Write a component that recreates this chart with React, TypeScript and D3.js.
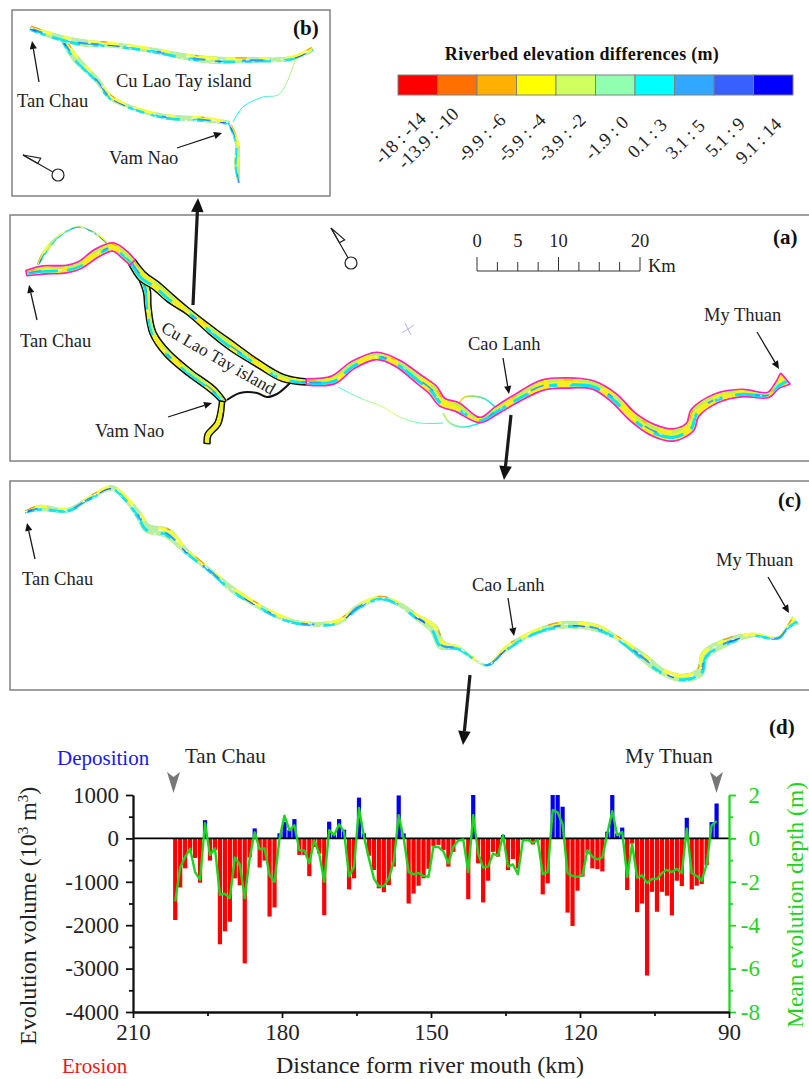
import React, { useEffect, useRef } from "react";
import * as d3 from "d3";

const SERIF = "'Liberation Serif', 'Times New Roman', serif";
const GREEN = "#1fd41f";

// chart (d): one value per km of river, from km 201.5 down to km 92.5
const volume = [
  -1880, -1130, -690, -300, -450, -1020, 420, -510, -270, -2440,
  -2140, -1920, -920, -1080, -2880, -440, 230, -670, -510, -1800,
  -1590, 115, 380, 190, 445, -380, -380, -870, -200, -350,
  -1770, 385, 80, 445, 200, -1175, -920, 940, 115, -400,
  -730, -1150, -1240, -1075, -650, 990, 115, -1500, -1270, -1090,
  -920, -700, -180, -150, -270, -650, -310, -40, -25, -1400,
  1000, -575, -1475, -975, -310, -420, 80, -730, -475, -690,
  -40, -50, -140, -40, -1290, -1035, 1000, 1000, 730, -1710,
  -2020, -1205, -880, -345, -690, -705, -760, 155, 1000, 115,
  250, -1190, -120, -1700, -1500, -3160, -1230, -1690, -1230, -1320,
  -1775, -975, -1100, 475, -1175, -1090, -1050, -615, 375, 805,
];
const depth = [
  -2.9, -1.35, -0.85, -0.48, -1.55, -1.9, 0.7, -0.77, -0.46, -2.6,
  -2.55, -2.75, -0.88, -1.2, -2.75, -0.9, 0.28, -0.5, -0.46, -1.7,
  -2.0, 0, 1.05, 0.38, 0.6, -0.55, -0.55, -1.15, -0.1, -0.7,
  -2.0, 0.38, 0.15, 0.65, 0.3, -1.75, -1.3, 1.4, 0.08, -0.92,
  -1.85, -2.2, -2.2, -1.85, -1.07, 1.07, 0, -1.55, -1.65, -1.6,
  -1.73, -1.77, -0.38, -0.4, -0.6, -1.15, -0.38, -0.1, -0.05, -1.55,
  1.07, -0.7, -1.35, -1.3, -0.7, -0.8, 0.15, -1.3, -1.2, -1.65,
  -0.1, -0.08, -0.2, -0.08, -1.65, -1.55, 1.3, 1.2, 0.65, -1.6,
  -1.73, -1.77, -1.7, -0.55, -0.85, -0.97, -0.88, 0.23, 1.25, 0.15,
  0.3, -1.77, -0.26, -1.8, -1.7, -2.05, -1.87, -1.87, -1.6, -1.45,
  -1.55, -1.4, -1.6, 0.45, -1.6, -1.73, -1.95, -1.2, 0.6, 0.8,
];
const volumeTicks = [1000, 0, -1000, -2000, -3000, -4000];
const depthTicks = [2, 0, -2, -4, -6, -8];
const distanceTicks = [210, 180, 150, 120, 90];

// legend
const legendLabels = [
  "-18 : -14", "-13.9 : -10", "-9.9 : -6", "-5.9 : -4", "-3.9 : -2",
  "-1.9 : 0", "0.1 : 3", "3.1 : 5", "5.1 : 9", "9.1 : 14",
];
const legendColors = [
  "#ff0000", "#ff7000", "#ffb000", "#ffff00", "#d0ff60",
  "#90ffb0", "#00ffff", "#30a8ff", "#3860ff", "#0000ff",
];
const legendLabelX = [382, 405, 465, 505, 545, 592, 635, 673, 713, 743];
const legendLabelY = [165, 170, 163, 163, 163, 161, 159, 160, 158, 165];

// river reaches as [x, y, width]
type P = [number, number, number];
const aUpper: P[] = [[27, 273, 4], [43, 270, 7], [67, 269, 6], [80, 265, 6], [97, 253, 7], [113, 247, 7], [125, 255, 7], [132, 262, 6]];
const aMiddle: P[] = [[132, 262, 7], [143, 277, 9], [155, 285, 8], [170, 298, 8], [190, 313, 5], [213, 332, 7], [233, 347, 8], [257, 363, 6], [283, 378, 6], [307, 382, 5]];
const aLower: P[] = [[307, 382, 5], [333, 380, 7], [353, 365, 6], [377, 356, 6], [397, 363, 6], [420, 380, 8], [433, 390, 9], [442, 402, 8], [457, 407, 8], [480, 420, 4], [497, 410, 6], [517, 398, 7], [543, 385, 9], [567, 383, 9], [593, 385, 7], [613, 397, 8], [633, 417, 8], [653, 430, 10], [673, 435, 11], [690, 427, 9], [695, 413, 9], [717, 398, 8], [743, 393, 6], [768, 395, 4], [777, 386, 5], [785, 379, 13]];
const aHau: P[] = [[143, 279, 7], [147, 292, 6], [148, 307, 5], [153, 333, 5], [167, 353, 6], [190, 373, 6], [213, 390, 6], [224, 402, 4]];
const aHauLeg: P[] = [[222, 402, 4], [218, 423, 5], [208, 435, 5], [207, 443, 5]];
const aVamNao: P[] = [[227, 400, 2], [240, 393, 2], [257, 393, 2], [267, 397, 2], [277, 394, 2], [290, 383, 2]];
const aLoop: P[] = [[38, 265, 3], [45, 252, 5], [58, 237, 3], [78, 227, 2], [93, 232, 2], [107, 243, 3]];
const aThin1: P[] = [[338, 387, 1], [360, 398, 1], [383, 407, 1], [400, 417, 1], [420, 423, 1], [443, 423, 1]];
const aThin2: P[] = [[443, 413, 1], [450, 423, 2], [463, 427, 2], [480, 423, 2]];
const aThin3: P[] = [[458, 405, 1], [465, 397, 2], [483, 398, 2], [495, 407, 2]];

const cRiver: P[] = [[25, 512, 3], [40, 508, 7], [68, 510, 5], [90, 498, 5], [112, 488, 6], [127, 500, 6], [140, 517, 8], [147, 528, 10], [167, 533, 11], [187, 552, 6], [213, 573, 5], [233, 590, 7], [260, 607, 6], [280, 617, 6], [300, 623, 5], [338, 622, 6], [358, 607, 6], [380, 598, 5], [397, 603, 5], [417, 617, 7], [433, 628, 10], [442, 645, 10], [458, 648, 5], [487, 665, 3], [507, 648, 6], [533, 633, 6], [563, 625, 8], [597, 628, 8], [617, 638, 5], [643, 657, 9], [663, 672, 8], [683, 678, 9], [700, 672, 10], [705, 655, 10], [727, 642, 9], [753, 635, 5], [778, 638, 4], [788, 627, 4], [796, 620, 12]];

const bUpper: P[] = [[30, 28, 6], [50, 35, 7], [77, 42, 8], [113, 45, 6], [150, 50, 6], [187, 57, 7], [213, 60, 8], [253, 60, 6], [293, 58, 5], [313, 49, 6]];
const bLower: P[] = [[63, 40, 6], [77, 60, 8], [97, 80, 6], [110, 97, 6], [133, 108, 5], [167, 117, 6], [200, 119, 6], [230, 123, 5]];
const bLeg: P[] = [[230, 125, 4], [237, 143, 5], [237, 167, 6], [239, 183, 3]];
const bThin: P[] = [[233, 122, 1], [243, 107, 1], [263, 97, 1], [278, 95, 1], [287, 82, 1], [295, 60, 1]];

// speckle layers for the river surface, one set per map style
type Layer = { color: string; offset: number; width: number; dash: string };
const speckleA: Layer[] = [
  { color: "#00e8f8", offset: 0.22, width: 0.42, dash: "31 9 17 22 8 13" },
  { color: "#b8f060", offset: -0.28, width: 0.3, dash: "11 19 27 13" },
  { color: "#30a0ff", offset: 0.05, width: 0.22, dash: "14 67 6 43" },
  { color: "#ffb000", offset: -0.35, width: 0.18, dash: "9 83 5 51" },
  { color: "#ffffff", offset: 0.1, width: 0.12, dash: "2 29 3 41" },
];
const speckleSurvey: Layer[] = [
  { color: "#ffff30", offset: -0.22, width: 0.45, dash: "23 11 9 17 31 8" },
  { color: "#10e4f4", offset: 0.2, width: 0.42, dash: "17 7 29 13 11 19" },
  { color: "#28a0ff", offset: 0.05, width: 0.3, dash: "13 37 21 59 7 29" },
  { color: "#2060f0", offset: 0.12, width: 0.18, dash: "7 73 12 97" },
  { color: "#ff9010", offset: -0.36, width: 0.18, dash: "11 61 6 89 4 37" },
  { color: "#ffffff", offset: -0.05, width: 0.16, dash: "3 11 2 23 4 17" },
  { color: "#ffffff", offset: 0.33, width: 0.1, dash: "2 7 3 19" },
];

const lineTo = d3.line().curve(d3.curveCatmullRom);

function shifted(points: P[], k: number): [number, number][] {
  return points.map(([x, y, w], i) => {
    const a = points[Math.max(i - 1, 0)];
    const b = points[Math.min(i + 1, points.length - 1)];
    const dx = b[0] - a[0];
    const dy = b[1] - a[1];
    const len = Math.hypot(dx, dy) || 1;
    return [x - (dy / len) * k * w, y + (dx / len) * k * w];
  });
}

let clipCount = 0;

function drawRiver(svg: any, points: P[], layers: Layer[], base: string, outline: string | null = null, outlineWidth = 1.3) {
  const id = `reach-${clipCount++}`;
  const ribbon = lineTo(shifted(points, 0.5)) + "L" + lineTo(shifted(points, -0.5).reverse())!.slice(1) + "Z";
  svg.append("clipPath").attr("id", id).append("path").attr("d", ribbon);
  if (outline) {
    svg.append("path").attr("d", ribbon).attr("fill", outline).attr("stroke", outline)
      .attr("stroke-width", outlineWidth * 2).attr("stroke-linejoin", "round");
  }
  const g = svg.append("g").attr("clip-path", `url(#${id})`);
  g.append("path").attr("d", ribbon).attr("fill", base);
  const avg = d3.mean(points, (p) => p[2]) as number;
  layers.forEach((s) => {
    g.append("path")
      .attr("d", lineTo(shifted(points, s.offset)))
      .attr("fill", "none")
      .attr("stroke", s.color)
      .attr("stroke-width", Math.max(avg * s.width, 0.8))
      .attr("stroke-dasharray", s.dash);
  });
}

function drawThin(svg: any, points: P[], colors: string[]) {
  const id = `thin-${clipCount++}`;
  const [x0, x1] = d3.extent(points, (p) => p[0]) as [number, number];
  const gradient = svg.append("linearGradient").attr("id", id)
    .attr("gradientUnits", "userSpaceOnUse").attr("x1", x0).attr("x2", x1).attr("y1", 0).attr("y2", 0);
  colors.forEach((c, i) => gradient.append("stop").attr("offset", i / (colors.length - 1)).attr("stop-color", c));
  svg.append("path")
    .attr("d", lineTo(points.map(([x, y]) => [x, y]) as [number, number][]))
    .attr("fill", "none")
    .attr("stroke", `url(#${id})`)
    .attr("stroke-width", d3.mean(points, (p) => p[2]) as number);
}

function label(svg: any, text: string, x: number, y: number, size = 18.5, extra: Record<string, any> = {}) {
  const t = svg.append("text")
    .attr("x", x).attr("y", y)
    .attr("font-family", SERIF).attr("font-size", size)
    .attr("fill", "#222")
    .text(text);
  Object.entries(extra).forEach(([k, v]) => t.attr(k, v));
  return t;
}

function arrow(svg: any, x1: number, y1: number, x2: number, y2: number, width = 1.3, head = 8) {
  const angle = Math.atan2(y2 - y1, x2 - x1);
  const bx = x2 - Math.cos(angle) * head;
  const by = y2 - Math.sin(angle) * head;
  svg.append("line").attr("x1", x1).attr("y1", y1).attr("x2", bx).attr("y2", by)
    .attr("stroke", "#1a1a1a").attr("stroke-width", width);
  const spread = head * 0.45;
  svg.append("polygon")
    .attr("points", [
      [x2, y2],
      [bx - Math.sin(angle) * spread, by + Math.cos(angle) * spread],
      [bx + Math.sin(angle) * spread, by - Math.cos(angle) * spread],
    ].join(" "))
    .attr("fill", "#111");
}

function north(svg: any, x: number, y: number, cx: number, cy: number) {
  const dx = cx - x;
  const dy = cy - y;
  const len = Math.hypot(dx, dy);
  const ux = dx / len;
  const uy = dy / len;
  const g = svg.append("g").attr("fill", "none").attr("stroke", "#222").attr("stroke-width", 1.2);
  g.append("line").attr("x1", x).attr("y1", y).attr("x2", cx - ux * 6).attr("y2", cy - uy * 6);
  g.append("polygon").attr("points", [
    [x, y],
    [x + ux * 17 + uy * 6, y + uy * 17 - ux * 6],
    [x + ux * 17, y + uy * 17],
  ].join(" "));
  g.append("circle").attr("cx", cx).attr("cy", cy).attr("r", 6);
}

function panel(svg: any, x: number, y: number, w: number, h: number) {
  svg.append("rect").attr("x", x).attr("y", y).attr("width", w).attr("height", h)
    .attr("fill", "#fff").attr("stroke", "#808080").attr("stroke-width", 1.5);
}

function drawLegend(svg: any) {
  const x = d3.scaleBand().domain(legendLabels).range([398, 793]);
  label(svg, "Riverbed elevation differences (m)", 582, 60, 18, {
    "text-anchor": "middle", "font-weight": "bold", fill: "#111", "letter-spacing": 0.3,
  });
  svg.selectAll(".legend-cell").data(legendLabels).enter().append("rect")
    .attr("class", "legend-cell")
    .attr("x", (d: string) => x(d)).attr("y", 75)
    .attr("width", x.bandwidth()).attr("height", 20)
    .attr("fill", (_: string, i: number) => legendColors[i])
    .attr("stroke", "#808080").attr("stroke-width", 1);
  legendLabels.forEach((d, i) => {
    label(svg, d, legendLabelX[i], legendLabelY[i], 18.5, {
      transform: `rotate(-45 ${legendLabelX[i]} ${legendLabelY[i]})`,
    });
  });
}

function drawPanelB(svg: any) {
  panel(svg, 12, 10, 318, 186);
  drawRiver(svg, bLower, speckleSurvey, "#b8f0a0");
  drawRiver(svg, bUpper, speckleSurvey, "#b8f0a0");
  drawRiver(svg, bLeg, speckleSurvey, "#c8f070");
  drawThin(svg, bThin, ["#00e8ff", "#40f0e0", "#c8f070"]);
  label(svg, "(b)", 293, 35, 21, { "font-weight": "bold", fill: "#111" });
  label(svg, "Tan Chau", 17, 107);
  label(svg, "Cu Lao Tay island", 116, 87);
  label(svg, "Vam Nao", 109, 164);
  arrow(svg, 39, 82, 32, 41);
  arrow(svg, 177, 148, 222, 133);
  north(svg, 23, 155, 58, 175);
}

function drawPanelA(svg: any) {
  panel(svg, 10, 215, 810, 246);
  drawRiver(svg, aLoop, speckleSurvey, "#c8f070");
  drawThin(svg, aThin1, ["#40f0e0", "#e0ff60", "#00f0ff"]);
  drawThin(svg, aThin2, ["#c8f070", "#00e8ff"]);
  drawThin(svg, aThin3, ["#ffe000", "#00e8ff"]);
  drawThin(svg, aVamNao, ["#111", "#111"]);
  drawRiver(svg, aHau, speckleA, "#f4f020", "#111");
  drawRiver(svg, aHauLeg, [], "#f0f020", "#111");
  drawRiver(svg, aMiddle, speckleA, "#f4f020", "#111");
  drawRiver(svg, aUpper, speckleA, "#f4f020", "#ff20c0", 1.5);
  drawRiver(svg, aLower, speckleA, "#f4f020", "#ff20c0", 1.5);
  label(svg, "(a)", 773, 244, 21, { "font-weight": "bold", fill: "#111" });
  label(svg, "Tan Chau", 20, 347);
  label(svg, "Cu Lao Tay island", 160, 331, 17.5, { transform: "rotate(30 160 331)" });
  label(svg, "Vam Nao", 95, 437);
  label(svg, "Cao Lanh", 468, 350);
  label(svg, "My Thuan", 704, 321);
  arrow(svg, 37, 320, 29, 285);
  arrow(svg, 168, 417, 212, 403);
  arrow(svg, 503, 358, 509, 394);
  arrow(svg, 757, 332, 779, 369);
  north(svg, 331, 228, 351, 263);
  // stray survey cross
  svg.append("path").attr("d", "M402,333L414,325M405,323L411,335").attr("stroke", "#a8a0e0").attr("stroke-width", 0.8);

  // scale bar
  const km = d3.scaleLinear().domain([0, 20]).range([477, 640]);
  const bar = svg.append("g").attr("stroke", "#333").attr("stroke-width", 1).attr("fill", "none");
  bar.append("line").attr("x1", km(0)).attr("x2", km(20)).attr("y1", 271).attr("y2", 271);
  d3.range(0, 20.01, 2.5).forEach((v) => {
    const major = v % 10 === 0;
    bar.append("line").attr("x1", km(v)).attr("x2", km(v)).attr("y1", 271).attr("y2", major ? 257 : 262);
  });
  [0, 5, 10, 20].forEach((v) => {
    label(svg, String(v), km(v), 247, 18.5, { "text-anchor": "middle" });
  });
  label(svg, "Km", 648, 272);
}

function drawPanelC(svg: any) {
  panel(svg, 10, 481, 810, 209);
  drawRiver(svg, cRiver, speckleSurvey, "#b8f0a0");
  label(svg, "(c)", 778, 507, 21, { "font-weight": "bold", fill: "#111" });
  label(svg, "Tan Chau", 22, 585);
  label(svg, "Cao Lanh", 472, 591);
  label(svg, "My Thuan", 716, 566);
  arrow(svg, 35, 559, 27, 523);
  arrow(svg, 508, 598, 514, 636);
  arrow(svg, 768, 577, 789, 613);
}

function drawChartD(svg: any) {
  const x = d3.scaleLinear().domain([210, 90]).range([133, 729]);
  const yVol = d3.scaleLinear().domain([-4000, 1000]).range([1012, 795]);
  const yDepth = d3.scaleLinear().domain([-8, 2]).range([1012, 795]);
  const km = volume.map((_, i) => 201.5 - i);

  const zero = yVol(0);
  svg.selectAll(".bar").data(volume).enter().append("rect")
    .attr("class", "bar")
    .attr("x", (_: number, i: number) => x(km[i]) - 2.1)
    .attr("width", 4.2)
    .attr("y", (d: number) => (d > 0 ? yVol(d) : zero))
    .attr("height", (d: number) => Math.abs(yVol(d) - zero))
    .attr("fill", (d: number) => (d > 0 ? "#0000f0" : "#ff0000"));

  svg.append("line").attr("x1", x(210)).attr("x2", x(90)).attr("y1", zero).attr("y2", zero)
    .attr("stroke", "#000").attr("stroke-width", 1.6);

  const line = d3.line<number>().x((_, i) => x(km[i])).y((d) => yDepth(d));
  svg.append("path").attr("d", line(depth)).attr("fill", "none")
    .attr("stroke", GREEN).attr("stroke-width", 2.4).attr("stroke-linejoin", "round");

  const styleAxis = (g: any, color: string, size: number) => {
    g.selectAll("path,line").attr("stroke", color).attr("stroke-width", 1.8);
    g.selectAll("text").attr("font-family", SERIF).attr("font-size", size).attr("fill", color === GREEN ? GREEN : "#222");
  };
  const plain = (d: any) => String(d);

  const left = svg.append("g").attr("transform", "translate(133,0)");
  left.call(d3.axisLeft(yVol).tickValues(d3.range(-3500, 1000, 1000)).tickSize(4).tickSizeOuter(0).tickFormat(() => ""));
  left.call((g: any) => styleAxis(g, "#111", 23));
  const leftMajor = svg.append("g").attr("transform", "translate(133,0)");
  leftMajor.call(d3.axisLeft(yVol).tickValues(volumeTicks).tickSize(7).tickSizeOuter(0).tickPadding(7).tickFormat(plain));
  leftMajor.call((g: any) => styleAxis(g, "#111", 23));

  const right = svg.append("g").attr("transform", "translate(729,0)");
  right.call(d3.axisRight(yDepth).tickValues(d3.range(-7, 2, 2)).tickSize(4).tickSizeOuter(0).tickFormat(() => ""));
  right.call((g: any) => styleAxis(g, GREEN, 23));
  const rightMajor = svg.append("g").attr("transform", "translate(729,0)");
  rightMajor.call(d3.axisRight(yDepth).tickValues(depthTicks).tickSize(7).tickSizeOuter(0).tickPadding(9).tickFormat(plain));
  rightMajor.call((g: any) => styleAxis(g, GREEN, 23));
  rightMajor.selectAll("text").attr("text-anchor", "end").attr("x", 31);

  const bottom = svg.append("g").attr("transform", "translate(0,1012)");
  bottom.call(d3.axisBottom(x).tickValues(d3.range(195, 100, -30)).tickSize(4).tickSizeOuter(0).tickFormat(() => ""));
  bottom.call((g: any) => styleAxis(g, "#111", 23));
  const bottomMajor = svg.append("g").attr("transform", "translate(0,1012)");
  bottomMajor.call(d3.axisBottom(x).tickValues(distanceTicks).tickSize(6).tickSizeOuter(0).tickPadding(6).tickFormat(plain));
  bottomMajor.call((g: any) => styleAxis(g, "#111", 23));

  label(svg, "(d)", 769, 734, 21, { "font-weight": "bold", fill: "#111" });
  label(svg, "Deposition", 57, 765, 21, { fill: "#1818f0" });
  label(svg, "Erosion", 62, 1073, 21, { fill: "#f01818" });
  label(svg, "Tan Chau", 185, 763, 21);
  label(svg, "My Thuan", 625, 763, 21);
  label(svg, "Distance form river mouth (km)", 430, 1073, 24, { "text-anchor": "middle" });

  const yTitle = label(svg, "Evolution volume (10", 0, 0, 24, { transform: "translate(36,1045) rotate(-90)" });
  yTitle.append("tspan").attr("dy", -8).attr("font-size", 15).text("3");
  yTitle.append("tspan").attr("dy", 8).text(" m");
  yTitle.append("tspan").attr("dy", -8).attr("font-size", 15).text("3");
  yTitle.append("tspan").attr("dy", 8).text(")");

  label(svg, "Mean evolution depth (m)", 0, 0, 23.5, {
    transform: "translate(803,1028) rotate(-90)", fill: GREEN,
  });

  [[167, 180], [710, 723]].forEach(([a, b]) => {
    const mid = (a + b) / 2;
    svg.append("path")
      .attr("d", `M${a},772L${mid},777L${b},772L${mid},793Z`)
      .attr("fill", "#777");
  });
}

function App() {
  const ref = useRef<SVGSVGElement | null>(null);

  useEffect(() => {
    if (!ref.current) return;
    const svg = d3.select(ref.current);
    svg.selectAll("*").remove();
    clipCount = 0;

    drawPanelA(svg);
    drawPanelC(svg);
    drawPanelB(svg);
    drawLegend(svg);
    drawChartD(svg);

    // arrows between the panels
    arrow(svg, 193, 305, 198, 198, 3.2, 14);
    arrow(svg, 511, 415, 504, 480, 3.2, 14);
    arrow(svg, 470, 675, 463, 745, 3.2, 14);
  }, []);

  return (
    <svg
      ref={ref}
      width={809}
      height={1079}
      style={{ position: "absolute", left: 0, top: 0, background: "#fff" }}
    />
  );
}

export default App;
